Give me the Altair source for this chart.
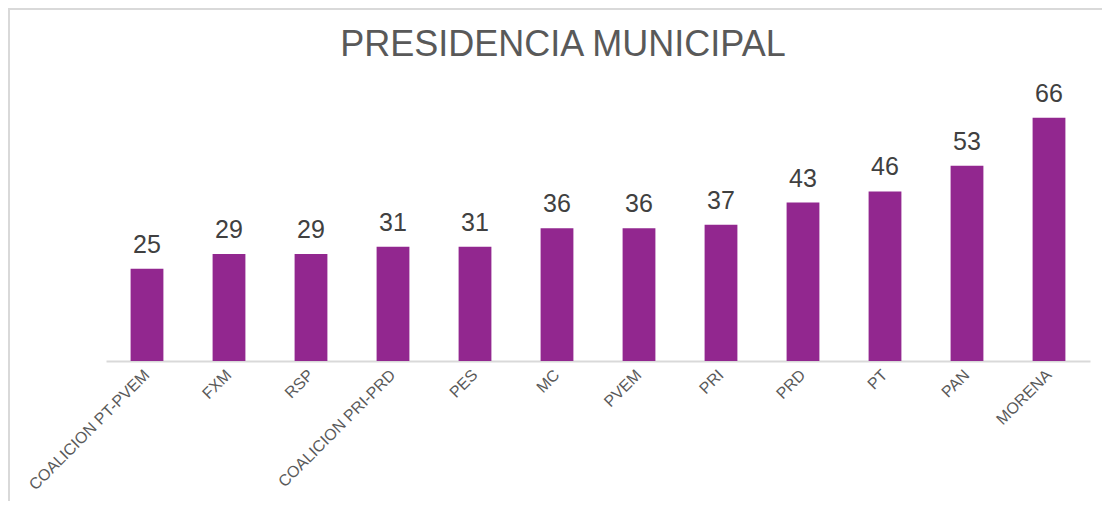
import altair as alt
import pandas as pd

TITLE = "PRESIDENCIA MUNICIPAL"
partidos = ["COALICION PT-PVEM", "FXM", "RSP", "COALICION PRI-PRD", "PES", "MC",
            "PVEM", "PRI", "PRD", "PT", "PAN", "MORENA"]
valores = [25, 29, 29, 31, 31, 36, 36, 37, 43, 46, 53, 66]

df = pd.DataFrame({"partido": partidos, "valor": valores})
title_df = pd.DataFrame({"t": [TITLE]})

FONT = "Liberation Sans"
PURPLE = "#92278F"

x_enc = alt.X("partido:N", sort=partidos,
              scale=alt.Scale(paddingInner=0.6, paddingOuter=0.3),
              axis=alt.Axis(title=None, labelAngle=-45, labelAlign="right",
                            labelBaseline="middle", labelFontSize=16,
                            labelColor="#595959", labelFont=FONT, ticks=False,
                            domainColor="#d9d9d9", domainWidth=2,
                            labelPadding=11, grid=False))
y_enc = alt.Y("valor:Q", scale=alt.Scale(domain=[0, 70], nice=False), axis=None)

base = alt.Chart(df)

border_top = alt.Chart(title_df).mark_rule(color="#d9d9d9", strokeWidth=2).encode(
    x=alt.value(-97), x2=alt.value(996), y=alt.value(-94))
border_left = alt.Chart(title_df).mark_rule(color="#d9d9d9", strokeWidth=2).encode(
    x=alt.value(-97), y=alt.value(-95), y2=alt.value(398))

bars = base.mark_bar(color=PURPLE).encode(x=x_enc, y=y_enc)

labels = base.mark_text(baseline="alphabetic", dy=-16, fontSize=25,
                        font=FONT, color="#404040").encode(
    x=alt.X("partido:N", sort=partidos), y="valor:Q", text="valor:Q")

title = alt.Chart(title_df).mark_text(
    fontSize=36, font=FONT, color="#595959", baseline="alphabetic", align="center"
).encode(x=alt.value(457), y=alt.value(-47), text="t:N")

chart = alt.layer(border_top, border_left, bars, labels, title).properties(
    width=984, height=258,
    autosize=alt.AutoSizeParams(type="none"),
    padding={"left": 98, "top": 95, "right": 12, "bottom": 140},
).configure(background="white").configure_view(strokeWidth=0, stroke=None)

chart.save("out.html", embed_options={"renderer": "svg", "actions": False})
